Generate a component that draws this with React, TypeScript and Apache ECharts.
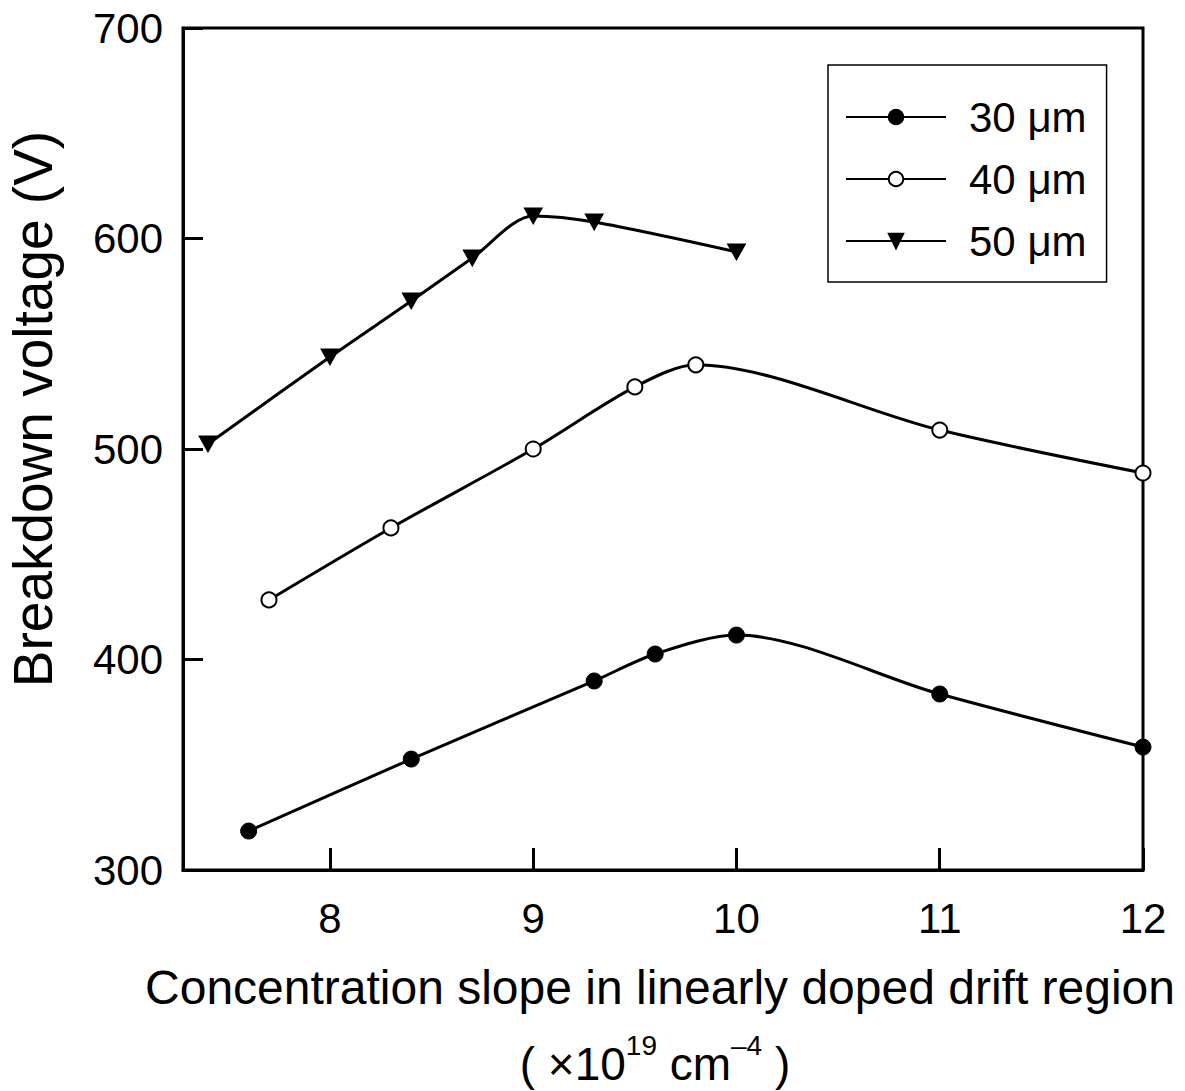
import React, { useEffect, useRef } from "react";
import * as echarts from "echarts";

const xTicks = [8, 9, 10, 11, 12];
const yMin = 300;
const yMax = 700;
const xMin = 7.277;
const xMax = 12;

const series30x = [7.6, 8.4, 9.3, 9.6, 10, 11, 12];
const series30y = [318.5, 352.7, 389.8, 402.6, 411.6, 383.6, 358.4];

const series40x = [7.7, 8.3, 9.0, 9.5, 9.8, 11, 12];
const series40y = [428.3, 462.5, 500, 529.5, 540, 509, 488.6];

const series50x = [7.4, 8.0, 8.4, 8.7, 9.0, 9.3, 10];
const series50y = [502.4, 543.7, 570.3, 590.7, 610.7, 607.8, 593.6];

const seriesNames = ["30 μm", "40 μm", "50 μm"];

const FONT = "'Liberation Sans', Arial, Helvetica, sans-serif";

function zip(xs: number[], ys: number[]) {
  return xs.map((x, i) => [x, ys[i]]);
}

export default function App() {
  const ref = useRef<HTMLDivElement>(null);
  useEffect(() => {
    if (!ref.current) return;
    const chart = echarts.init(ref.current, undefined, { renderer: "svg" });
    const lineStyle = { color: "#000", width: 3 };
    chart.setOption({
      animation: false,
      backgroundColor: "#fff",
      textStyle: { fontFamily: FONT, color: "#000" },
      grid: {
        left: 183,
        top: 28,
        right: 42,
        bottom: 221,
        show: true,
        borderColor: "#000",
        borderWidth: 3,
        backgroundColor: "transparent",
      },
      legend: {
        left: 828,
        top: 65,
        orient: "vertical",
        data: seriesNames,
        itemWidth: 100,
        itemHeight: 18,
        itemGap: 20,
        padding: [31, 20, 20, 17],
        borderColor: "#000",
        borderWidth: 1.5,
        textStyle: {
          fontFamily: FONT,
          fontSize: 42,
          color: "#000",
          padding: [0, 0, 0, 18],
        },
      },
      xAxis: {
        type: "value",
        min: xMin,
        max: xMax,
        axisLine: { show: true, lineStyle: { color: "#000", width: 3 } },
        axisTick: {
          show: true,
          inside: true,
          length: 22,
          lineStyle: { color: "#000", width: 3 },
          customValues: xTicks,
        },
        axisLabel: {
          customValues: xTicks,
          fontFamily: FONT,
          fontSize: 42,
          color: "#000",
          margin: 27,
        },
        splitLine: { show: false },
      },
      yAxis: {
        type: "value",
        min: yMin,
        max: yMax,
        interval: 100,
        axisLine: { show: true, lineStyle: { color: "#000", width: 3 } },
        axisTick: {
          show: true,
          inside: true,
          length: 20,
          lineStyle: { color: "#000", width: 3 },
        },
        axisLabel: {
          fontFamily: FONT,
          fontSize: 42,
          color: "#000",
          margin: 20,
        },
        splitLine: { show: false },
      },
      graphic: [
        {
          type: "text",
          x: 33,
          y: 409,
          rotation: Math.PI / 2,
          style: {
            text: "Breakdown voltage (V)",
            fontFamily: FONT,
            fontSize: 55,
            fill: "#000",
            align: "center",
            verticalAlign: "middle",
          },
        },
        {
          type: "text",
          x: 660,
          y: 987,
          style: {
            text: "Concentration slope in linearly doped drift region",
            fontFamily: FONT,
            fontSize: 48,
            fill: "#000",
            align: "center",
            verticalAlign: "middle",
          },
        },
        {
          type: "text",
          x: 655,
          y: 1059,
          style: {
            text: "{n|( ×10}{s|19}{n| cm}{s|–4}{n| )}",
            fontFamily: FONT,
            fill: "#000",
            align: "center",
            verticalAlign: "middle",
            rich: {
              n: { fontFamily: FONT, fontSize: 46, lineHeight: 56, verticalAlign: "bottom", fill: "#000" },
              s: { fontFamily: FONT, fontSize: 28, lineHeight: 56, verticalAlign: "top", fill: "#000" },
            },
          },
        },
      ],
      series: [
        {
          name: seriesNames[0],
          type: "line",
          smooth: 0.3,
          data: zip(series30x, series30y),
          symbol: "circle",
          symbolSize: 16,
          itemStyle: { color: "#000", borderColor: "#000", borderWidth: 1 },
          lineStyle,
          z: 3,
        },
        {
          name: seriesNames[1],
          type: "line",
          smooth: 0.3,
          data: zip(series40x, series40y),
          symbol: "circle",
          symbolSize: 15,
          itemStyle: { color: "#fff", borderColor: "#000", borderWidth: 2 },
          lineStyle,
          z: 3,
        },
        {
          name: seriesNames[2],
          type: "line",
          smooth: 0.3,
          data: zip(series50x, series50y),
          symbol: "triangle",
          symbolRotate: 180,
          symbolSize: [18, 16],
          itemStyle: { color: "#000", borderColor: "#000", borderWidth: 1 },
          lineStyle,
          z: 3,
        },
      ],
    });
    return () => chart.dispose();
  }, []);
  return (
    <div
      ref={ref}
      style={{ position: "absolute", left: 0, top: 0, width: 1185, height: 1091 }}
    />
  );
}
